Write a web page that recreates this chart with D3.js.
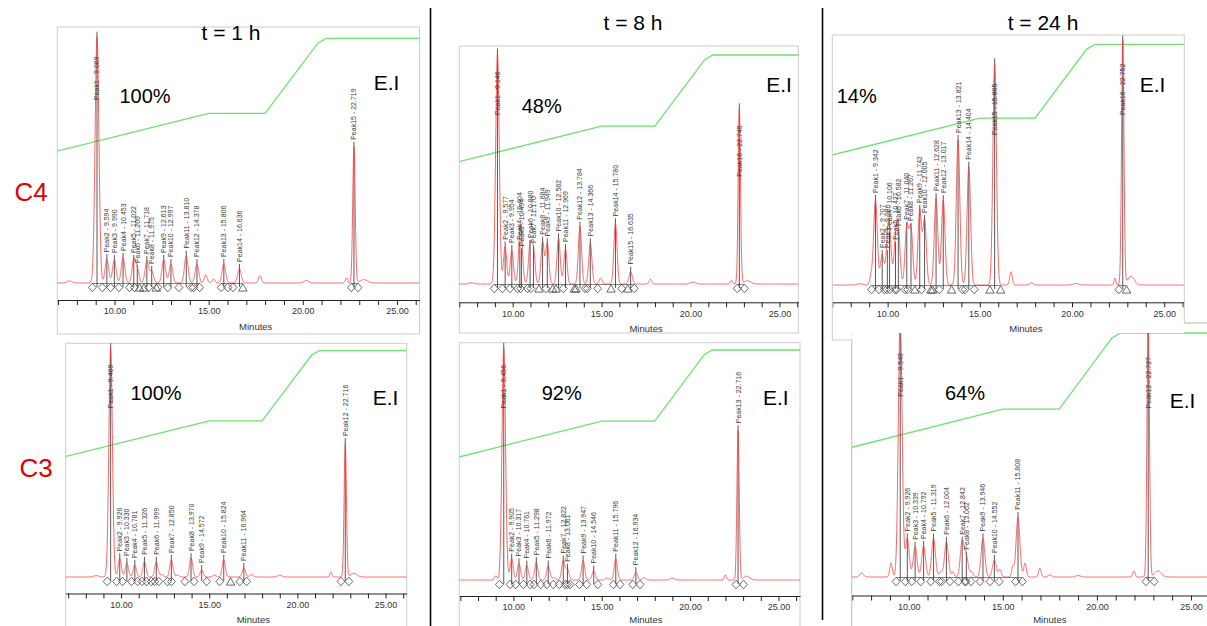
<!DOCTYPE html>
<html><head><meta charset="utf-8">
<script src="https://cdn.jsdelivr.net/npm/d3@7"></script>
<style>body{margin:0;background:#fff}svg{display:block;font-family:"Liberation Sans",Arial,sans-serif}</style>
</head><body><svg id="c" width="1207" height="626"></svg>
<script>
// ---------- DATA ----------
// gradient profile (%B vs minutes), same for every run
const gradT = [6.5, 15, 18, 20.8, 21.25, 27];
const gradB = [29.4, 40, 40, 58.7, 60, 60];

const tickMinutes = d3.range(7, 27);
const tickLabelMinutes = [10, 15, 20, 25];

const rowLabels = ["C4", "C3"];
const colTitles = ["t = 1 h", "t = 8 h", "t = 24 h"];
const remaining = ["100%", "48%", "14%", "100%", "92%", "64%"];

// C4, 1 h
const p1Times   = [9.069, 9.594, 9.990, 10.453, 11.022, 11.209, 11.718, 11.975, 12.613, 12.997, 13.810, 14.378, 15.806, 16.636, 22.719];
const p1Heights = [96.2, 9.3, 9.0, 9.8, 9.0, 5.1, 8.6, 4.7, 9.0, 7.4, 10.7, 7.4, 7.4, 5.5, 53.2];
const p1LabelAt = [71.5, null, null, null, null, null, null, null, null, null, null, null, null, null, null];
const p1MinorT  = [7.6, 14.85, 15.25, 17.72, 20.18, 22.32, 23.25];
const p1MinorH  = [0.8, 3.2, 1.5, 2.8, 1.0, 2.0, 1.3];
const p1MinorW  = [0.15, 0.08, 0.08, 0.08, 0.12, 0.06, 0.2];
const p1MarkT   = [8.82, 9.35, 9.79, 10.23, 10.80, 11.06, 11.33, 11.56, 11.82, 12.22, 12.30, 12.83, 13.42, 14.08, 14.20, 14.52, 15.67, 16.02, 16.29, 16.82, 22.58, 22.93];
const p1MarkK   = "ddddddttdtdddddddddtdd";

// C4, 8 h
const p2Times   = [9.146, 9.577, 9.954, 10.404, 10.494, 10.980, 11.170, 11.684, 11.949, 12.582, 12.969, 13.784, 14.366, 15.780, 16.635, 22.745];
const p2Heights = [96.9, 15.7, 14.3, 15.7, 12.9, 16.4, 14.3, 17.8, 17.1, 19.2, 14.7, 24.1, 17.1, 25.5, 5.2, 73.8];
const p2LabelAt = [71.0, null, null, null, null, null, null, null, null, null, null, null, null, null, null, 45.1];
const p2MinorT  = [7.7, 14.95, 17.75, 20.15, 22.3, 23.2];
const p2MinorH  = [0.5, 2.5, 2.0, 0.8, 1.5, 1.3];
const p2MinorW  = [0.15, 0.08, 0.08, 0.15, 0.06, 0.2];
const p2MarkT   = [8.97, 9.42, 9.85, 10.28, 10.45, 10.84, 11.03, 11.48, 11.87, 12.25, 12.44, 12.85, 13.47, 13.56, 14.07, 14.20, 14.78, 15.53, 16.13, 16.47, 16.84, 22.63, 23.03];
const p2MarkK   = "dddddddtdttdttdddtdtddd";

// C4, 24 h
const p3Times   = [9.342, 9.707, 9.986, 10.106, 10.427, 10.582, 11.040, 11.267, 11.742, 12.005, 12.628, 13.017, 13.821, 14.404, 15.805, 22.752];
const p3Heights = [34.0, 12.0, 12.0, 19.3, 15.3, 20.8, 23.3, 22.8, 30.0, 26.0, 34.8, 34.0, 58.0, 47.3, 88.7, 98.0];
const p3LabelAt = [null, null, null, null, null, null, null, null, null, null, null, null, null, null, 60, 68];
const p3MinorT  = [8.5, 9.1, 16.69, 17.8, 20.2, 22.33, 23.2];
const p3MinorH  = [0.5, 3.3, 5.3, 1.0, 0.6, 2.8, 3.5];
const p3MinorW  = [0.15, 0.07, 0.07, 0.08, 0.15, 0.05, 0.18];
const p3MarkT   = [9.13, 9.53, 9.82, 9.95, 10.12, 10.40, 10.49, 10.94, 11.08, 11.48, 11.84, 12.35, 12.44, 12.80, 13.47, 14.05, 14.20, 14.70, 15.55, 16.13, 22.54, 22.96];
const p3MarkK   = "dddddddddtdttdtdddttdt";

// C3, 1 h
const p4Times   = [9.409, 9.926, 10.330, 10.781, 11.326, 11.999, 12.850, 13.970, 14.572, 15.824, 16.964, 22.716];
const p4Heights = [98.0, 8.0, 6.0, 5.1, 6.5, 6.5, 7.3, 8.1, 3.0, 7.3, 3.9, 57.3];
const p4LabelAt = [72.2, null, null, null, null, null, null, null, null, null, null, null];
const p4MinorT  = [8.6, 12.3, 13.2, 15.3, 17.4, 19.0, 21.9, 23.2];
const p4MinorH  = [0.6, 1.0, 0.8, 0.8, 1.0, 0.8, 2.0, 1.6];
const p4MinorW  = [0.15, 0.1, 0.1, 0.1, 0.1, 0.12, 0.06, 0.18];
const p4MarkT   = [9.21, 9.74, 10.08, 10.59, 10.93, 11.19, 11.44, 11.72, 11.91, 12.14, 12.63, 12.86, 13.62, 14.14, 14.85, 15.60, 16.21, 16.74, 17.12, 22.47, 22.92];
const p4MarkK   = "ddddddddddddddddtdddd";

// C3, 8 h
const p5Times   = [9.456, 9.905, 10.317, 10.761, 11.298, 11.972, 12.822, 13.061, 13.947, 14.546, 15.796, 16.934, 22.716];
const p5Heights = [97.8, 9.0, 7.0, 6.1, 7.5, 6.1, 8.2, 4.7, 8.2, 4.0, 9.0, 3.3, 63.1];
const p5LabelAt = [72.3, null, null, null, null, null, null, null, null, null, null, null, null];
const p5MinorT  = [9.0, 12.3, 15.3, 17.4, 19.0, 22.0, 23.2];
const p5MinorH  = [1.7, 1.0, 0.8, 1.0, 0.8, 2.2, 1.6];
const p5MinorW  = [0.07, 0.1, 0.1, 0.1, 0.12, 0.06, 0.18];
const p5MarkT   = [9.21, 9.81, 10.13, 10.57, 10.95, 11.17, 11.55, 11.89, 12.26, 12.60, 12.93, 13.06, 13.21, 13.74, 14.15, 14.78, 15.66, 16.04, 16.76, 17.17, 22.60, 23.02];
const p5MarkK   = "dddddddddddddddddddddd";

// C3, 24 h
const p6Times   = [9.549, 9.926, 10.339, 10.792, 11.319, 12.004, 12.842, 13.062, 13.946, 14.552, 15.808, 22.727];
const p6Heights = [102, 15.2, 11.9, 12.2, 15.2, 13.9, 13.9, 8.0, 15.2, 6.7, 23.7, 102];
const p6LabelAt = [71.0, null, null, null, null, null, null, null, null, null, null, 66.4];
const p6MinorT  = [7.5, 9.06, 11.7, 12.35, 13.35, 14.85, 15.53, 16.18, 16.97, 17.5, 19.0, 21.97, 23.25];
const p6MinorH  = [1.6, 5.5, 2.0, 2.0, 2.0, 3.0, 4.0, 5.5, 3.5, 0.8, 0.6, 2.4, 2.4];
const p6MinorW  = [0.1, 0.07, 0.08, 0.07, 0.08, 0.07, 0.06, 0.07, 0.07, 0.1, 0.12, 0.06, 0.18];
const p6MarkT   = [9.33, 9.82, 10.16, 10.64, 11.17, 11.63, 11.75, 12.19, 12.64, 12.99, 13.04, 13.31, 13.79, 14.32, 14.81, 15.68, 16.04, 22.61, 23.05];
const p6MarkK   = "ddddddddddddddddddd";

// ---------- LAYOUT ----------
const layout = {
  p1: {x0:57.3, x1:419.5, t0:6.96, t1:26.2, top:27, bottom:334, axisY:300, baseY:283, span:256, g30:151, g60:38.3, pctX:145, pctY:103, eiX:386.5, eiY:90, sig:0.095, intBase:true},
  p2: {x0:459.3, x1:798.3, t0:7.0, t1:26.06, top:46, bottom:333, axisY:302.3, baseY:284, span:238, g30:161.7, g60:55, pctX:541.7, pctY:113.3, eiX:779, eiY:91.7, sig:0.09, intBase:true},
  p3: {x0:832.3, x1:1184.3, t0:7.0, t1:26.09, top:35, bottom:340, axisY:302.3, baseY:285, span:250, g30:155, g60:44.3, pctX:856.7, pctY:103.3, eiX:1152.5, eiY:91.7, sig:0.095, intBase:true},
  p4: {x0:65.7, x1:406.7, t0:6.86, t1:26.2, top:343.3, bottom:660, axisY:593.5, baseY:577, span:233.7, g30:456, g60:350.7, pctX:156, pctY:400, eiX:385.5, eiY:405, sig:0.09, intBase:false},
  p5: {x0:459.3, x1:800, t0:6.94, t1:26.22, top:342.7, bottom:660, axisY:596, baseY:580, span:237.3, g30:456.7, g60:350, pctX:561.7, pctY:400, eiX:775.8, eiY:405, sig:0.09, intBase:false},
  p6: {x0:851.7, x1:1213, t0:6.97, t1:26.17, top:323, bottom:660, axisY:595.5, baseY:577, span:254, g30:447.3, g60:333, pctX:965, pctY:400, eiX:1182.5, eiY:408, sig:0.1, intBase:true}
};

const panels = {
  p1:{times:p1Times, heights:p1Heights, labelAt:p1LabelAt, mT:p1MinorT, mH:p1MinorH, mW:p1MinorW, markT:p1MarkT, markK:p1MarkK, pct:remaining[0]},
  p2:{times:p2Times, heights:p2Heights, labelAt:p2LabelAt, mT:p2MinorT, mH:p2MinorH, mW:p2MinorW, markT:p2MarkT, markK:p2MarkK, pct:remaining[1]},
  p3:{times:p3Times, heights:p3Heights, labelAt:p3LabelAt, mT:p3MinorT, mH:p3MinorH, mW:p3MinorW, markT:p3MarkT, markK:p3MarkK, pct:remaining[2]},
  p4:{times:p4Times, heights:p4Heights, labelAt:p4LabelAt, mT:p4MinorT, mH:p4MinorH, mW:p4MinorW, markT:p4MarkT, markK:p4MarkK, pct:remaining[3]},
  p5:{times:p5Times, heights:p5Heights, labelAt:p5LabelAt, mT:p5MinorT, mH:p5MinorH, mW:p5MinorW, markT:p5MarkT, markK:p5MarkK, pct:remaining[4]},
  p6:{times:p6Times, heights:p6Heights, labelAt:p6LabelAt, mT:p6MinorT, mH:p6MinorH, mW:p6MinorW, markT:p6MarkT, markK:p6MarkK, pct:remaining[5]}
};

const svg = d3.select("#c");
const defs = svg.append("defs");
const FRAME = "#cdcdcd";

function drawPanel(id, drawFrame) {
  const L = layout[id], D = panels[id];
  const g = svg.append("g").attr("class", id);
  const x = d3.scaleLinear().domain([L.t0, L.t1]).range([L.x0, L.x1]);
  const y = d3.scaleLinear().domain([0, 100]).range([L.baseY, L.baseY - L.span]);
  const gy = d3.scaleLinear().domain([30, 60]).range([L.g30, L.g60]);

  defs.append("clipPath").attr("id", "clip-" + id).append("rect")
    .attr("x", L.x0).attr("y", L.top).attr("width", L.x1 - L.x0).attr("height", L.axisY - L.top);

  if (drawFrame) {
    g.append("rect").attr("x", L.x0).attr("y", L.top).attr("width", L.x1 - L.x0).attr("height", L.bottom - L.top)
      .attr("fill", "#fff").attr("stroke", FRAME).attr("stroke-width", 1);
  }
  const c = g.append("g").attr("clip-path", "url(#clip-" + id + ")");

  // gradient line
  c.append("path").datum(d3.range(gradT.length))
    .attr("d", d3.line().x(i => x(gradT[i])).y(i => gy(gradB[i])))
    .attr("fill", "none").attr("stroke", "#6fe06f").attr("stroke-width", 1.3);

  // chromatogram trace
  const last = D.times.length - 1;
  const sig = i => i === 0 ? 0.1 : (i === last ? 0.065 : L.sig);
  const signal = t => {
    let v = 0;
    D.times.forEach((tt, i) => { const z = (t - tt) / sig(i); v += D.heights[i] * Math.exp(-0.5 * z * z); });
    D.mT.forEach((tt, i) => { const z = (t - tt) / D.mW[i]; v += D.mH[i] * Math.exp(-0.5 * z * z); });
    return v;
  };
  const ts = d3.range(L.t0, L.t1 + 0.005, 0.005);

  // integration baselines between close markers
  if (L.intBase) {
    for (let i = 0; i < D.markT.length - 1; i++) {
      if (D.markT[i + 1] - D.markT[i] < 0.9) {
        c.append("line").attr("x1", x(D.markT[i])).attr("x2", x(D.markT[i + 1]))
          .attr("y1", L.baseY + 0.5).attr("y2", L.baseY + 0.5).attr("stroke", "#555").attr("stroke-width", 0.7);
      }
    }
  }

  // peak apex lines
  D.times.forEach((t, i) => {
    const ay = y(D.heights[i]);
    const px = x(t);
    c.append("line").attr("x1", px).attr("x2", px).attr("y1", L.baseY + 4).attr("y2", ay - 5)
      .attr("stroke", "#111").attr("stroke-width", 0.7);
  });

  c.append("path").datum(ts)
    .attr("d", d3.line().x(t => x(t)).y(t => y(signal(t))))
    .attr("fill", "none").attr("stroke", "#ff3b3b").attr("stroke-width", 1).attr("stroke-opacity", 0.8);

  // labels
  D.times.forEach((t, i) => {
    const ay = y(D.heights[i]);
    const px = x(t);
    const lb = D.labelAt[i] != null ? y(D.labelAt[i]) : ay - 7;
    c.append("text").attr("transform", `translate(${px},${lb}) rotate(-90)`)
      .attr("dy", "0.35em").attr("font-size", 7).attr("fill", "#3a3a3a")
      .text(`Peak${i + 1} - ${t.toFixed(3)}`);
  });

  // markers
  D.markT.forEach((t, i) => {
    const k = D.markK[i];
    const mx = x(t), my = L.baseY + 4.5;
    const d = k === "t" ? "M0,-3.8L4.2,3.6L-4.2,3.6Z" : "M0,-4.3L3.9,0L0,4.3L-3.9,0Z";
    c.append("path").attr("d", d).attr("transform", `translate(${mx},${my})`)
      .attr("fill", "none").attr("stroke", "#444").attr("stroke-width", 0.8);
  });

  // axis
  const ax = d3.axisBottom(x).tickValues(tickMinutes.filter(t => t >= L.t0 && t <= L.t1))
    .tickFormat(d => tickLabelMinutes.includes(d) ? d.toFixed(2) : "")
    .tickSize(5).tickSizeOuter(0).tickPadding(3);
  const ag = g.append("g").attr("transform", `translate(0,${L.axisY})`).call(ax);
  ag.select(".domain").attr("stroke", "#222");
  ag.selectAll(".tick line").attr("stroke", "#222");
  ag.selectAll(".tick text").attr("font-size", 9).attr("fill", "#333").attr("font-family", "Liberation Sans, Arial, sans-serif");
  g.append("text").attr("x", x(17.5)).attr("y", Math.min(L.axisY + 30, 623)).attr("text-anchor", "middle")
    .attr("font-size", 9.5).attr("fill", "#333").text("Minutes");

  // annotations
  g.append("text").attr("x", L.pctX).attr("y", L.pctY).attr("text-anchor", "middle")
    .attr("font-size", 20).attr("fill", "#000").text(D.pct);
  g.append("text").attr("x", L.eiX).attr("y", L.eiY).attr("text-anchor", "middle")
    .attr("font-size", 21).attr("fill", "#000").text("E.I");
  return g;
}

drawPanel("p1", true);
drawPanel("p2", true);
drawPanel("p4", true);
drawPanel("p5", true);
drawPanel("p6", true);
// top-right image lies over the bottom-right one
svg.append("rect").attr("x", 823.5).attr("y", 0).attr("width", 1184.5 - 823.5).attr("height", 333).attr("fill", "#fff");
svg.append("rect").attr("x", 823.5).attr("y", 333).attr("width", 851.7 - 823.5).attr("height", 8).attr("fill", "#fff");
drawPanel("p3", false);
const L3 = layout.p3;
const fr = svg.append("g").attr("stroke", FRAME).attr("stroke-width", 1).attr("fill", "none");
fr.append("path").attr("d", `M${L3.x0},${L3.bottom}V${L3.top}H${L3.x1}V323H1207`);
fr.append("path").attr("d", `M${L3.x0},${L3.bottom}H${layout.p6.x0}V626`);

// column titles and row labels
const titleX = [231, 633, 1043], titleY = [40, 30, 30];
colTitles.forEach((t, i) => svg.append("text").attr("x", titleX[i]).attr("y", titleY[i])
  .attr("text-anchor", "middle").attr("font-size", 21).attr("fill", "#000").text(t));
const rowX = [31, 36], rowY = [201, 477];
rowLabels.forEach((t, i) => svg.append("text").attr("x", rowX[i]).attr("y", rowY[i])
  .attr("text-anchor", "middle").attr("font-size", 26).attr("fill", "#e00000").text(t));

// separators
svg.append("line").attr("x1", 430.5).attr("x2", 430.5).attr("y1", 8).attr("y2", 626).attr("stroke", "#000").attr("stroke-width", 1.6);
svg.append("line").attr("x1", 822.5).attr("x2", 822.5).attr("y1", 8).attr("y2", 620).attr("stroke", "#000").attr("stroke-width", 1.6);
</script></body></html>
